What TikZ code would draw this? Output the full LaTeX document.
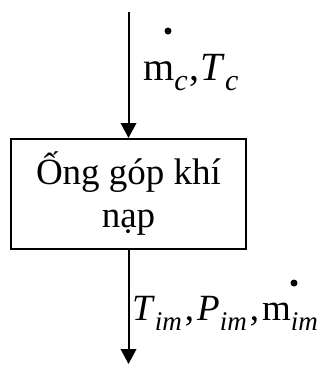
\documentclass[tikz,border=0pt]{standalone}
\usepackage{fontspec}
\setmainfont{Liberation Serif}
\usetikzlibrary{arrows.meta}
\newcommand\subsc[1]{\raisebox{-10pt}{\fontsize{30}{30}\selectfont\itshape #1}}
\newcommand\subsd[1]{\raisebox{-10pt}{\fontsize{27}{27}\selectfont\itshape #1}}
\tikzset{
  arr/.style={line width=2pt, -{Triangle[width=15.5pt,length=15pt]}},
  boxstyle/.style={draw, line width=2pt, minimum width=235pt, minimum height=110pt,
    align=center, inner sep=0pt, font=\fontsize{37}{43}\selectfont},
  lbl/.style={anchor=base west, inner sep=0pt, font=\fontsize{40}{40}\selectfont},
  lblb/.style={anchor=base west, inner sep=0pt, font=\fontsize{37}{37}\selectfont},
  dotmark/.style={circle, fill, inner sep=0pt, minimum size=7pt}
}
\begin{document}
\begin{tikzpicture}[x=1pt,y=-1pt]
\useasboundingbox (0,0) rectangle (320,365);
\node[boxstyle] (box) at (128.5,194) {Ống góp khí\\nạp};
\coordinate (src) at (128.5,12);
\coordinate (snk) at (128.5,364);
\draw[arr] (src) -- (box.north);
\draw[arr] (box.south) -- (snk);
\node[lbl] (inlbl) at (143,80) {m\subsc{c}\kern2pt,\kern1pt\textit{T}\subsc{c}};
\node[dotmark] (indot) at (168,31) {};
\node[lblb] (outlbl) at (132,320) {\textit{T}\subsd{im}\kern3pt,\kern3pt\textit{P}\subsd{im}\kern3pt,\kern3pt m\subsd{im}};
\node[dotmark] (outdot) at (294,283) {};
\end{tikzpicture}
\end{document}
